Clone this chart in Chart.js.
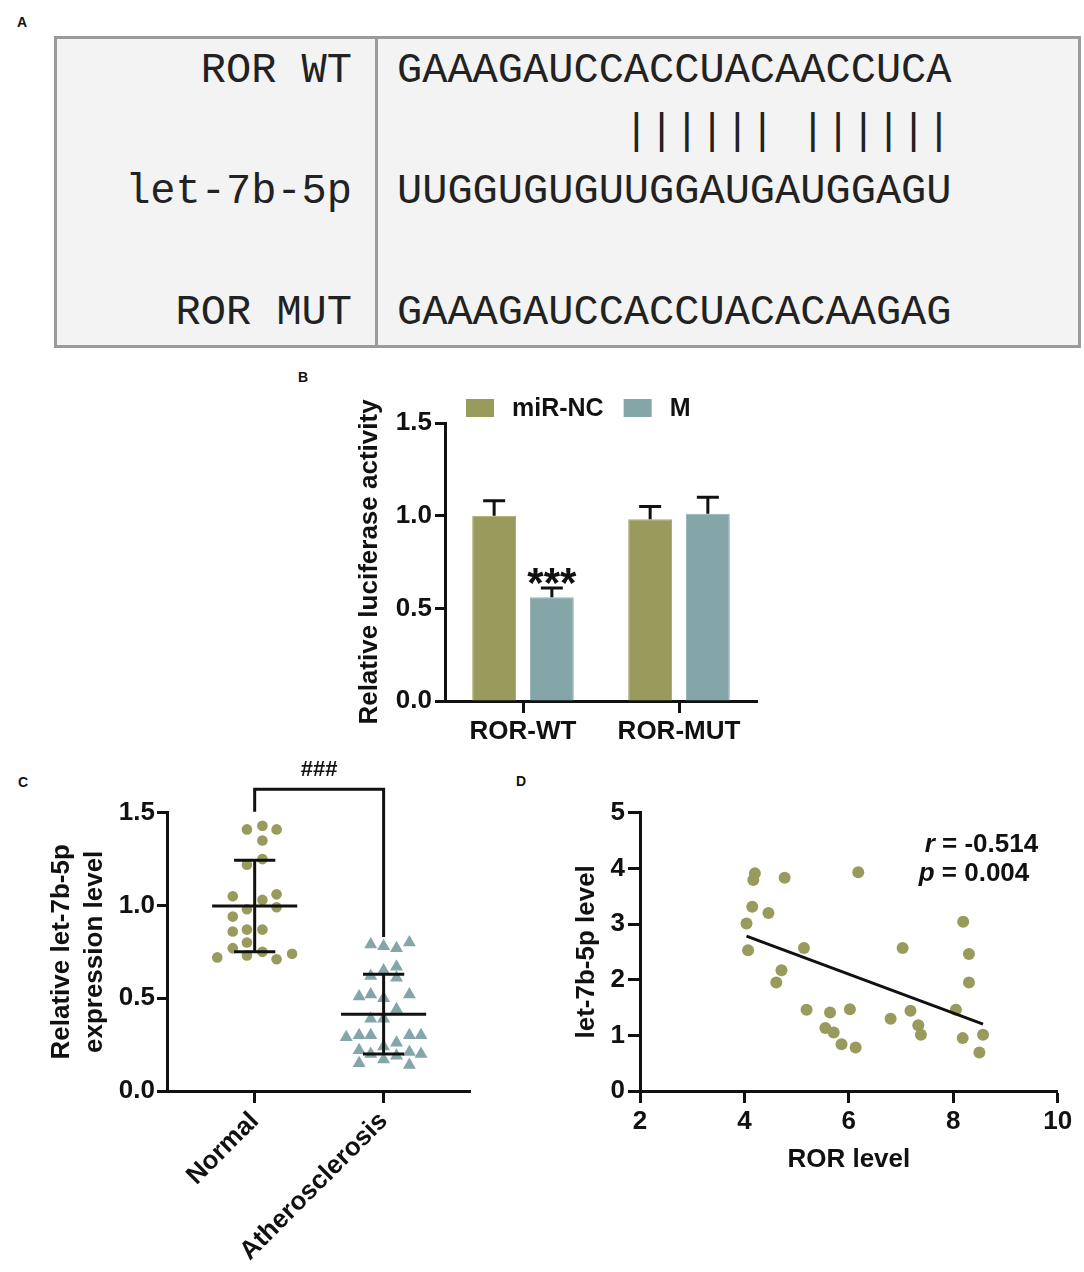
<!DOCTYPE html>
<html>
<head>
<meta charset="utf-8">
<script src="https://cdn.jsdelivr.net/npm/chart.js@4.4.0/dist/chart.umd.min.js"></script>
<style>
  body { margin: 0; background: #fff; }
  #page { position: relative; width: 1084px; height: 1272px; font-family: "Liberation Sans", Arial, sans-serif; color: #111; }
  .tag { position: absolute; font-weight: bold; font-size: 14px; line-height: 16px; }
  #seqBox { position: absolute; left: 54px; top: 36px; width: 1021px; height: 306px; border: 3px solid #9a9a9a; background: #f3f3f3; }
  #seqDivider { position: absolute; left: 318px; top: 0; bottom: 0; width: 3px; background: #9a9a9a; }
  .seqCol { position: absolute; top: 2px; margin: 0; font-family: "Liberation Mono", "Courier New", monospace; font-size: 42px; line-height: 60.5px; color: #222; white-space: pre; }
  #seqNames { right: 726px; text-align: right; }
  #seqText { left: 340px; }
  canvas { position: absolute; }
</style>
</head>
<body>
<div id="page">
  <div class="tag" style="left:17px;top:14px">A</div>
  <div id="seqBox">
    <div id="seqDivider"></div>
    <pre class="seqCol" id="seqNames"></pre>
    <pre class="seqCol" id="seqText"></pre>
  </div>
  <div class="tag" style="left:298px;top:369px">B</div>
  <div class="tag" style="left:18px;top:774px">C</div>
  <div class="tag" style="left:516px;top:773px">D</div>
  <canvas id="chartB" width="480" height="400" style="left:290px;top:360px"></canvas>
  <canvas id="chartC" width="480" height="522" style="left:0px;top:750px"></canvas>
  <canvas id="chartD" width="564" height="430" style="left:520px;top:760px"></canvas>
</div>
<script>
// A: binding site alignment
const seqLabels = ['ROR WT', '', 'let-7b-5p', '', 'ROR MUT'];
const seqRows = ['GAAAGAUCCACCUACAACCUCA', '         |||||| ||||||', 'UUGGUGUGUUGGAUGAUGGAGU', '', 'GAAAGAUCCACCUACACAAGAG'];

// B: luciferase reporter
const lucCategories = ['ROR-WT', 'ROR-MUT'];
const lucGroups = ['miR-NC', 'M'];
const lucNC = [1.00, 0.98];
const lucNCErr = [0.08, 0.07];
const lucM = [0.56, 1.01];
const lucMErr = [0.05, 0.09];
const lucMSig = ['***', ''];

// C: let-7b-5p expression (x jitter is the offset from the group centre, in group units)
const exprGroups = ['Normal', 'Atherosclerosis'];
const normalVals = [1.41, 1.43, 1.41, 1.35, 1.25, 1.22, 1.05, 1.06, 1.03, 0.98, 0.99, 0.94,
  0.87, 0.87, 0.86, 0.80, 0.77, 0.75, 0.72, 0.73, 0.71, 0.74];
const normalJitter = [-0.06, 0.06, 0.17, 0.06, 0.06, -0.06, -0.17, 0.17, 0.06, -0.06, 0.17, -0.17,
  -0.06, 0.06, -0.17, -0.06, -0.17, 0.06, -0.29, -0.06, 0.17, 0.29];
const atheroVals = [0.79, 0.78, 0.77, 0.80, 0.67, 0.65, 0.62, 0.61, 0.51, 0.52, 0.50, 0.52,
  0.44, 0.39, 0.39, 0.29, 0.30, 0.30, 0.26, 0.30, 0.30, 0.22, 0.24, 0.21, 0.20, 0.20,
  0.19, 0.17, 0.15, 0.14];
const atheroJitter = [-0.10, 0, 0.10, 0.20, 0.10, 0, -0.10, 0.10, -0.19, -0.10, 0, 0.20,
  0.10, -0.10, 0, -0.29, -0.19, -0.10, 0.10, 0.20, 0.29, -0.19, 0, 0.20, 0.29, -0.10,
  0.10, 0, -0.19, 0.20];
const exprSig = '###';

// D: correlation
const rorLevel = [4.20, 4.17, 4.77, 6.18, 4.15, 4.46, 4.04, 4.07, 8.19, 5.14, 7.03, 8.30, 4.71, 4.61, 8.30,
  5.19, 5.64, 6.02, 5.55, 5.71, 5.86, 6.13, 6.80, 7.18, 7.33, 7.38, 8.05, 8.18, 8.57, 8.50];
const let7bLevel = [3.91, 3.79, 3.83, 3.93, 3.31, 3.20, 3.01, 2.53, 3.04, 2.57, 2.57, 2.46, 2.17, 1.95, 1.95,
  1.46, 1.41, 1.47, 1.13, 1.05, 0.84, 0.78, 1.30, 1.44, 1.18, 1.01, 1.46, 0.95, 1.01, 0.69];
const corrR = '-0.514';
const corrP = '0.004';

const OLIVE = '#989b5b';
const TEAL = '#85a6a8';
const INK = '#111';
const FONT = '"Liberation Sans", Arial, sans-serif';

document.getElementById('seqNames').textContent = seqLabels.join('\n');
document.getElementById('seqText').textContent = seqRows.join('\n');

Chart.defaults.font.family = FONT;
Chart.defaults.color = INK;
Chart.defaults.animation = false;
Chart.defaults.responsive = false;
Chart.defaults.events = [];
Chart.defaults.plugins.legend.display = false;
Chart.defaults.plugins.tooltip.enabled = false;

const tickFont = { size: 26, weight: 'bold' };

function axisLook(tickLen) {
  return {
    border: { display: true, color: INK, width: 3 },
    grid: { drawOnChartArea: false, drawTicks: true, tickLength: tickLen, tickWidth: 3, tickColor: INK },
  };
}

// error bars (upper only) and significance marks for panel B
const errorBars = {
  id: 'errorBars',
  afterDatasetsDraw(chart) {
    const { ctx } = chart;
    const y = chart.scales.y;
    ctx.save();
    chart.data.datasets.forEach((ds, i) => {
      chart.getDatasetMeta(i).data.forEach((bar, j) => {
        const top = y.getPixelForValue(ds.data[j] + ds.errors[j]);
        ctx.strokeStyle = INK;
        ctx.lineWidth = 3;
        ctx.beginPath();
        ctx.moveTo(bar.x, bar.y);
        ctx.lineTo(bar.x, top);
        ctx.moveTo(bar.x - 11, top);
        ctx.lineTo(bar.x + 11, top);
        ctx.stroke();
        if (ds.marks && ds.marks[j]) {
          ctx.fillStyle = INK;
          ctx.font = 'bold 42px ' + FONT;
          ctx.textAlign = 'center';
          ctx.textBaseline = 'alphabetic';
          ctx.fillText(ds.marks[j], bar.x, top + 9);
        }
      });
    });
    ctx.restore();
  }
};

// legend row above the plot area
const boxLegend = {
  id: 'boxLegend',
  afterDraw(chart) {
    const { ctx, chartArea } = chart;
    let x = chartArea.left + 21;
    const y = chartArea.top - 15;
    ctx.save();
    ctx.font = 'bold 25px ' + FONT;
    ctx.textBaseline = 'middle';
    chart.data.datasets.forEach(ds => {
      ctx.fillStyle = ds.backgroundColor;
      ctx.fillRect(x, y - 9, 28, 18);
      x += 28 + 18;
      ctx.fillStyle = INK;
      ctx.fillText(ds.label, x, y + 1);
      x += ctx.measureText(ds.label).width + 20;
    });
    ctx.restore();
  }
};

new Chart(document.getElementById('chartB'), {
  type: 'bar',
  data: {
    labels: lucCategories,
    datasets: [
      { label: lucGroups[0], data: lucNC, errors: lucNCErr, backgroundColor: OLIVE, borderColor: '#a6a86c', borderWidth: 1 },
      { label: lucGroups[1], data: lucM, errors: lucMErr, marks: lucMSig, backgroundColor: TEAL, borderColor: '#95b3b5', borderWidth: 1 }
    ]
  },
  options: {
    layout: { padding: { left: 60, top: 63, right: 13, bottom: 14 } },
    datasets: { bar: { categoryPercentage: 0.74, barPercentage: 0.76 } },
    scales: {
      x: Object.assign(axisLook(12), {
        offset: true,
        afterFit: s => { s.height = 45; },
        ticks: { font: tickFont, padding: 3, maxRotation: 0 }
      }),
      y: Object.assign(axisLook(10), {
        min: 0, max: 1.5,
        afterFit: s => { s.width = 95; },
        ticks: { stepSize: 0.5, font: tickFont, padding: 3, callback: v => v.toFixed(1) },
        title: { display: true, text: 'Relative luciferase activity', font: { size: 26, weight: 'bold' }, padding: { top: 4, bottom: 0 } }
      })
    }
  },
  plugins: [errorBars, boxLegend]
});
// tick marks at the category centres
Chart.getChart('chartB').options.scales.x.grid.offset = false;
Chart.getChart('chartB').update();

// mean +/- SD for panel C
const meanSd = {
  id: 'meanSd',
  afterDatasetsDraw(chart) {
    const { ctx, scales: { x, y } } = chart;
    ctx.save();
    ctx.strokeStyle = INK;
    ctx.lineWidth = 3;
    chart.data.datasets.forEach((ds, i) => {
      const vals = ds.data.map(p => p.y);
      const n = vals.length;
      const mean = vals.reduce((a, b) => a + b, 0) / n;
      const sd = Math.sqrt(vals.reduce((a, b) => a + (b - mean) ** 2, 0) / (n - 1));
      const cx = i + 1;
      const hline = (v, half) => {
        ctx.moveTo(x.getPixelForValue(cx - half), y.getPixelForValue(v));
        ctx.lineTo(x.getPixelForValue(cx + half), y.getPixelForValue(v));
      };
      ctx.beginPath();
      hline(mean, 0.33);
      hline(mean + sd, 0.16);
      hline(mean - sd, 0.16);
      ctx.moveTo(x.getPixelForValue(cx), y.getPixelForValue(mean + sd));
      ctx.lineTo(x.getPixelForValue(cx), y.getPixelForValue(mean - sd));
      ctx.stroke();
    });
    ctx.restore();
  }
};

const bracket = {
  id: 'bracket',
  afterDraw(chart, args, opts) {
    const { ctx, scales: { x, y } } = chart;
    const x1 = x.getPixelForValue(1), x2 = x.getPixelForValue(2);
    const top = y.getPixelForValue(opts.top);
    ctx.save();
    ctx.strokeStyle = INK;
    ctx.lineWidth = 3;
    ctx.beginPath();
    ctx.moveTo(x1, y.getPixelForValue(opts.leftEnd));
    ctx.lineTo(x1, top);
    ctx.lineTo(x2, top);
    ctx.lineTo(x2, y.getPixelForValue(opts.rightEnd));
    ctx.stroke();
    ctx.fillStyle = INK;
    ctx.font = 'bold 22px ' + FONT;
    ctx.textAlign = 'center';
    ctx.fillText(opts.text, (x1 + x2) / 2, top - 13);
    ctx.restore();
  }
};

new Chart(document.getElementById('chartC'), {
  type: 'scatter',
  data: {
    datasets: [
      { label: exprGroups[0], data: normalVals.map((v, i) => ({ x: 1 + normalJitter[i], y: v })),
        pointStyle: 'circle', pointRadius: 5.3, backgroundColor: OLIVE, borderWidth: 0 },
      { label: exprGroups[1], data: atheroVals.map((v, i) => ({ x: 2 + atheroJitter[i], y: v })),
        pointStyle: 'triangle', pointRadius: 7.5, backgroundColor: TEAL, borderWidth: 0 }
    ]
  },
  options: {
    layout: { padding: { left: 41, top: 62.7, right: 10, bottom: 5 } },
    plugins: { bracket: { top: 1.627, leftEnd: 1.505, rightEnd: 0.83, text: exprSig } },
    scales: {
      x: Object.assign(axisLook(12), {
        type: 'linear', min: 0.32, max: 2.67,
        afterBuildTicks: s => { s.ticks = exprGroups.map((g, i) => ({ value: i + 1 })); },
        afterFit: s => { s.height = 176; },
        ticks: { font: tickFont, padding: 3, minRotation: 45, maxRotation: 45, callback: (v, i) => exprGroups[i] }
      }),
      y: Object.assign(axisLook(10), {
        min: 0, max: 1.5,
        afterFit: s => { s.width = 126; },
        ticks: { stepSize: 0.5, font: tickFont, padding: 2, callback: v => v.toFixed(1) },
        title: { display: true, text: ['Relative let-7b-5p', 'expression level'],
          font: { size: 26, weight: 'bold', lineHeight: 1.28 }, padding: { top: 4, bottom: 0 } }
      })
    }
  },
  plugins: [meanSd, bracket]
});

// least squares fit for panel D
const n = rorLevel.length;
const mx = rorLevel.reduce((a, b) => a + b, 0) / n;
const my = let7bLevel.reduce((a, b) => a + b, 0) / n;
let sxy = 0, sxx = 0;
rorLevel.forEach((xv, i) => { sxy += (xv - mx) * (let7bLevel[i] - my); sxx += (xv - mx) ** 2; });
const slope = sxy / sxx;
const fitAt = xv => my + slope * (xv - mx);
const xMin = Math.min(...rorLevel), xMax = Math.max(...rorLevel);

const statText = {
  id: 'statText',
  afterDraw(chart) {
    const { ctx, chartArea } = chart;
    const rows = [['r', ' = ' + corrR, 133, 32], ['p', ' = ' + corrP, 139, 61]];
    ctx.save();
    ctx.fillStyle = INK;
    ctx.textBaseline = 'middle';
    rows.forEach(([sym, rest, fromRight, down]) => {
      let x = chartArea.right - fromRight;
      const y = chartArea.top + down;
      ctx.font = 'italic bold 26px ' + FONT;
      ctx.fillText(sym, x, y);
      x += ctx.measureText(sym).width;
      ctx.font = 'bold 26px ' + FONT;
      ctx.fillText(rest, x, y);
    });
    ctx.restore();
  }
};

new Chart(document.getElementById('chartD'), {
  type: 'scatter',
  data: {
    datasets: [
      { type: 'line', label: 'fit', order: 0, data: [{ x: xMin, y: fitAt(xMin) }, { x: xMax, y: fitAt(xMax) }],
        borderColor: INK, borderWidth: 3, pointRadius: 0, fill: false },
      { label: 'samples', order: 1, data: rorLevel.map((v, i) => ({ x: v, y: let7bLevel[i] })),
        pointRadius: 6, backgroundColor: OLIVE, borderWidth: 0 }
    ]
  },
  options: {
    layout: { padding: { left: 47, top: 52.7, right: 26.3, bottom: 10.4 } },
    scales: {
      x: Object.assign(axisLook(12), {
        type: 'linear', min: 2, max: 10,
        afterFit: s => { s.height = 88.6; },
        ticks: { stepSize: 2, font: tickFont, padding: 3, maxRotation: 0 },
        title: { display: true, text: 'ROR level', font: { size: 26, weight: 'bold' }, padding: { top: 4, bottom: 4 } }
      }),
      y: Object.assign(axisLook(12), {
        min: 0, max: 5,
        afterFit: s => { s.width = 73; },
        ticks: { stepSize: 1, font: tickFont, padding: 3 },
        title: { display: true, text: 'let-7b-5p level', font: { size: 26, weight: 'bold' }, padding: { top: 4, bottom: 0 } }
      })
    }
  },
  plugins: [statText]
});
</script>
</body>
</html>
